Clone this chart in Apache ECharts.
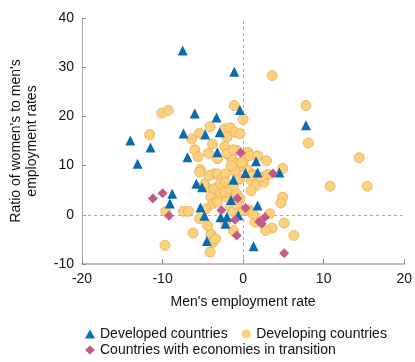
<!DOCTYPE html>
<html><head><meta charset="utf-8">
<script src="https://cdn.jsdelivr.net/npm/echarts@6/dist/echarts.min.js"></script>
<style>html,body{margin:0;padding:0;background:#fff}#c{width:415px;height:362px}</style>
</head><body><div id="c"></div>
<script>
const xTicks = [-20, 20, 10];   // min, max, interval
const yTicks = [-10, 40, 10];
const seriesNames = ['Developed countries', 'Developing countries', 'Countries with economies in transition'];

const developed = [
  [-7.5,33.4],[-1.1,29.1],[-14.0,15.1],[-13.1,10.4],[-11.5,13.7],[-6.0,20.6],[-7.4,16.5],[-6.9,11.7],
  [-4.7,16.3],[-3.3,19.8],[-2.9,16.8],[-3.2,12.7],[-0.4,21.3],[7.8,18.2],[1.6,10.9],[0.3,8.5],
  [1.8,8.6],[4.5,8.6],[-1.2,7.1],[-5.8,6.3],[-5.1,5.6],[-8.8,4.3],[-9.1,2.3],[-1.5,3.0],
  [1.8,1.9],[-5.3,1.5],[-4.8,-0.2],[-2.8,-0.5],[-2.0,-0.4],[-2.2,-1.8],[-0.6,-0.1],[-4.5,-5.3],[1.3,-6.4]
];

const developing = [
  [3.6,28.3],[7.8,22.2],[8.1,14.6],[14.4,11.6],[10.8,5.8],[15.4,5.8],
  [-10.1,20.7],[-9.3,21.2],[-11.6,16.3],[-1.1,22.2],[0.0,19.4],
  [-9.7,-6.2],[-9.6,0.7],[-7.4,0.7],[-6.8,0.7],[-6.2,-3.7],[-4.1,-7.6],[-4.0,-3.9],[-3.8,-5.6],
  [6.3,-4.2],[5.1,-1.7],[3.6,-2.7],[2.8,-3.2],[4.9,3.6],[4.7,2.4],[4.9,9.4],
  [-4.1,17.9],[-5.4,16.6],[-6.4,15.4],[-3.8,14.4],[-6.0,13.2],[-4.3,12.5],[-5.6,11.8],[-5.3,9.2],
  [-2.3,17.5],[-1.6,17.7],[-1.0,16.8],[-0.4,16.5],[-2.0,15.8],[-2.3,13.9],
  [-1.6,12.4],[-0.8,13.1],[-3.2,11.4],[-1.4,11.4],[0.6,12.7],[0.0,10.7],[0.8,12.0],[1.8,12.0],[2.9,11.0],
  [-1.2,9.6],[-0.8,10.4],[0.0,9.7],[-3.6,8.3],
  [-5.4,8.7],[-4.2,8.0],[-3.2,8.3],[-2.6,7.3],[-2.2,8.3],[-0.4,7.3],[1.0,7.0],[1.6,6.0],[2.6,6.6],[1.2,8.3],
  [-4.6,5.6],[-3.6,5.3],[-2.4,6.0],[-2.8,4.3],[-2.0,3.6],[-4.0,3.6],[-3.8,2.2],[-4.6,1.2],[-5.4,-0.8],
  [-4.4,-2.2],[-3.4,-4.9],[-0.2,0.9],[0.8,0.9],[1.6,-0.5],[3.3,0.2],[1.5,-1.5],[-1.2,-3.2],[-2.2,-1.5],
  [-2.8,6.3],[-2.2,6.6],[-2.3,4.6],[-1.6,5.3],[-0.8,4.3],[-0.4,3.3],[-1.2,6.0],[-0.6,7.3],[2.2,7.7],
  [3.1,8.2],[-1.0,8.9],[0.6,9.0],[1.1,8.0],[-3.2,2.6],[-1.6,1.6],[-1.2,0.7],[0.6,1.0],[1.2,0.2],
  [-0.8,2.1],[-1.5,10.0],[-2.0,12.4],[-1.2,13.2],[-0.2,10.6],[1.0,4.9],[-4.8,6.2]
];

const transition = [
  [-11.2,3.3],[-10.0,4.4],[-9.2,-0.2],[-0.3,12.6],[3.7,8.4],[-2.7,0.9],[-0.7,3.3],
  [0.3,1.4],[-1.0,-1.0],[-0.8,-4.2],[2.0,-1.4],[2.3,-1.8],[2.7,-0.5],[5.1,-7.8]
];

const FONT = '"Liberation Sans", Arial, sans-serif';
const chart = echarts.init(document.getElementById('c'), null, {renderer: 'canvas'});
const legendText = {fontSize: 14, color: '#111', fontFamily: FONT};
chart.setOption({
  animation: false,
  backgroundColor: '#fff',
  textStyle: {fontFamily: FONT},
  grid: {left: 73, right: 7, top: 18, bottom: 98},
  legend: [
    {data: [
        {name: seriesNames[0], icon: 'triangle'},
        {name: seriesNames[1], icon: 'circle'}
     ], left: 80, top: 322, itemWidth: 10, itemHeight: 9,
     itemGap: 14, itemTextGap: 6, textStyle: legendText,
     itemStyle: {borderWidth: 0, borderColor: 'transparent'}},
    {data: [{name: seriesNames[2], icon: 'diamond'}],
     left: 80, top: 338, itemWidth: 10, itemHeight: 9,
     itemTextGap: 6, textStyle: legendText,
     itemStyle: {borderWidth: 0, borderColor: 'transparent'}}
  ],
  xAxis: {
    type: 'value', min: xTicks[0], max: xTicks[1], interval: xTicks[2],
    name: "Men's employment rate", nameLocation: 'middle', nameGap: 31,
    nameTextStyle: {fontSize: 14, color: '#111', fontFamily: FONT},
    axisLine: {onZero: false, lineStyle: {color: '#aaa', width: 1.5}},
    axisTick: {inside: true, length: 5, lineStyle: {color: '#888'}},
    axisLabel: {fontSize: 14, color: '#111', margin: 8, fontFamily: FONT},
    splitLine: {show: false}
  },
  yAxis: {
    type: 'value', min: yTicks[0], max: yTicks[1], interval: yTicks[2],
    name: "Ratio of women's to men's\nemployment rates", nameLocation: 'middle', nameGap: 42,
    nameTextStyle: {fontSize: 14, color: '#111', lineHeight: 16, fontFamily: FONT},
    axisLine: {show: true, onZero: false, lineStyle: {color: '#aaa', width: 1}},
    axisTick: {show: true, inside: true, length: 4, lineStyle: {color: '#888'}},
    axisLabel: {fontSize: 14, color: '#111', margin: 8, fontFamily: FONT},
    splitLine: {show: false}
  },
  series: [
    {
      name: seriesNames[1], type: 'scatter', data: developing, symbol: 'circle', symbolSize: 10, z: 2,
      itemStyle: {color: '#fdd07c', borderColor: '#e3ad5a', borderWidth: 0.8, opacity: 1},
      markLine: {
        silent: true, symbol: 'none', label: {show: false},
        lineStyle: {color: '#aaa', type: [3, 3], width: 1},
        data: [{xAxis: 0}, {yAxis: 0}], z: 1
      }
    },
    {
      name: seriesNames[0], type: 'scatter', data: developed, symbol: 'triangle', symbolSize: 10, z: 3,
      itemStyle: {color: '#0a6cb0', opacity: 1}
    },
    {
      name: seriesNames[2], type: 'scatter', data: transition, symbol: 'diamond', symbolSize: 10, z: 4,
      itemStyle: {color: '#c45a8c', opacity: 1}
    }
  ]
});
</script></body></html>
